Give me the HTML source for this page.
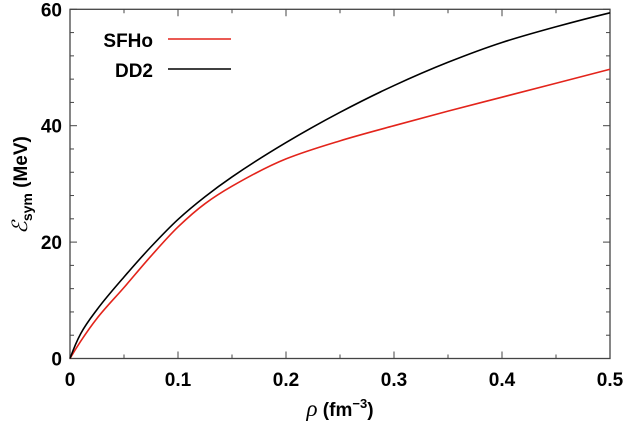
<!DOCTYPE html>
<html><head><meta charset="utf-8"><style>
body{margin:0;background:#fff}
svg{display:block;font-family:"Liberation Sans",Arial,sans-serif}
</style></head><body>
<svg id="chart" width="625" height="421"></svg>
<script>
const xTicks=[0,0.1,0.2,0.3,0.4,0.5];
const yTicks=[0,20,40,60];
const rhoSFHo=[0,0.01,0.025,0.05,0.075,0.1,0.125,0.15,0.2,0.25,0.3,0.35,0.4,0.45,0.5];
const esymSFHo=[0,3.0,6.9,12.2,17.6,22.6,26.6,29.6,34.3,37.4,40.0,42.5,44.9,47.3,49.7];
const rhoDD2=[0,0.01,0.025,0.05,0.075,0.1,0.125,0.15,0.2,0.25,0.3,0.35,0.4,0.45,0.5];
const esymDD2=[0,4.3,8.4,14.0,19.2,23.9,27.8,31.2,37.1,42.3,46.9,50.9,54.3,57.0,59.4];
const NS="http://www.w3.org/2000/svg";
const svg=document.getElementById('chart');
const L=70,R=610,T=9.3,B=358.5;
const sx=v=>L+(v/0.5)*(R-L);
const sy=v=>B-(v/60)*(B-T);
function el(t,a,p){const e=document.createElementNS(NS,t);for(const k in a)e.setAttribute(k,a[k]);(p||svg).appendChild(e);return e;}
const frame=el('rect',{x:L,y:T,width:R-L,height:B-T,fill:'none',stroke:'#444','stroke-width':1.3});


for(let i=0;i<=10;i++){const v=i*0.05,x=sx(v),len=i%2?4:7;
 el('line',{x1:x,x2:x,y1:B,y2:B-len,stroke:'#444'});el('line',{x1:x,x2:x,y1:T,y2:T+len,stroke:'#444'});}
for(let i=0;i<=15;i++){const v=i*4,y=sy(v),len=i%5?4:7;
 el('line',{x1:L,x2:L+len,y1:y,y2:y,stroke:'#444'});el('line',{x1:R,x2:R-len,y1:y,y2:y,stroke:'#444'});}
xTicks.forEach(v=>{const t=el('text',{x:sx(v),y:386,'text-anchor':'middle','font-size':19,'font-weight':'bold'});t.textContent=v===0?'0':v.toFixed(1);
 
 });
yTicks.forEach(v=>{const t=el('text',{x:62,y:sy(v)+7,'text-anchor':'end','font-size':19,'font-weight':'bold'});t.textContent=v;
 
 });
// monotone cubic (Fritsch–Carlson / Fritsch–Butland) in data space
function smooth(xs,ys,c,name){const n=xs.length,h=[],s=[],m=[];
 for(let i=0;i<n-1;i++){h[i]=xs[i+1]-xs[i];s[i]=(ys[i+1]-ys[i])/h[i];}
 m[0]=1.5*s[0]-0.5*s[1];m[n-1]=1.5*s[n-2]-0.5*s[n-3];
 for(let i=1;i<n-1;i++){m[i]=s[i-1]*s[i]<=0?0:3*(h[i-1]+h[i])/((2*h[i]+h[i-1])/s[i-1]+(h[i]+2*h[i-1])/s[i]);}
 let d='M'+sx(xs[0])+' '+sy(ys[0]);
 for(let i=0;i<n-1;i++){const dx=h[i]/3;
  d+=` C${sx(xs[i]+dx)} ${sy(ys[i]+m[i]*dx)} ${sx(xs[i+1]-dx)} ${sy(ys[i+1]-m[i+1]*dx)} ${sx(xs[i+1])} ${sy(ys[i+1])}`;}
 const p=el('path',{d:d,fill:'none',stroke:c,'stroke-width':1.6});
 
 }
smooth(rhoSFHo,esymSFHo,'#e3241b','sfho-line');
smooth(rhoDD2,esymDD2,'#000','dd2-line');
</script>
<svg width="625" height="421" style="position:absolute;left:0;top:0" font-family="Liberation Sans, Arial, sans-serif">
<g>
<text x="153" y="47" text-anchor="end" font-size="19" font-weight="bold">SFHo</text>
<line x1="168" x2="231" y1="39" y2="39" stroke="#e3241b" stroke-width="1.6"/>
<text x="153" y="77" text-anchor="end" font-size="19" font-weight="bold">DD2</text>
<line x1="168" x2="231" y1="69" y2="69" stroke="#000" stroke-width="1.6"/>
</g>
<text transform="translate(27,185) rotate(-90)" text-anchor="middle" font-size="19" font-weight="bold"><tspan font-family="Liberation Serif, serif" font-style="italic" font-weight="normal" font-size="21">ℰ</tspan><tspan font-size="14" dy="5">sym</tspan><tspan dy="-5"> (MeV)</tspan></text>
<text x="340" y="416" text-anchor="middle" font-size="19" font-weight="bold"><tspan font-family="Liberation Serif, serif" font-style="italic" font-weight="normal" font-size="23">ρ</tspan> (fm<tspan font-size="13" dy="-8">−3</tspan><tspan dy="8">)</tspan></text>
</svg>
</body></html>
